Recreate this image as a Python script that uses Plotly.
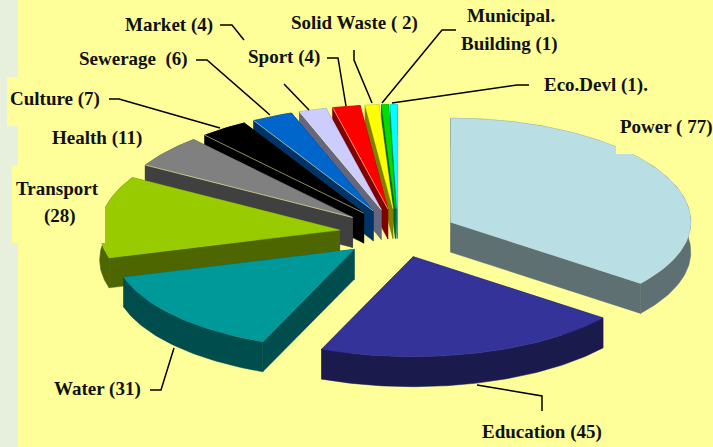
import math
import plotly.graph_objects as go

# ---- data ----
sectors = ["Power", "Education", "Water", "Transport", "Health", "Culture",
           "Sewerage", "Market", "Sport", "Solid Waste", "Municipal Building", "Eco.Devl"]
values = [77, 45, 31, 28, 11, 7, 6, 4, 4, 2, 1, 1]

# ---- styles ----
top_colors = ["#B9DFE4", "#333399", "#009999", "#99CC00", "#808080", "#000000",
              "#0066CC", "#CCCCFF", "#FF0000", "#FFFF00", "#00DD00", "#00FFFF"]
side_colors = ["#5F7072", "#1A1A4D", "#004D4D", "#4D6600", "#404040", "#000000",
               "#003366", "#66667F", "#800000", "#808000", "#006600", "#008080"]
pale_edge = {"Health", "Culture", "Sewerage", "Market", "Sport"}
draw_order = [0, 11, 10, 9, 8, 7, 6, 5, 4, 3, 2, 1]

# ---- projection of the tilted pie, in page pixels ----
CX, CY = 398, 233
RX, RY_FRONT, RY_BACK = 240, 100, 104
DEPTH = 30
EXPLODE = 0.245


def project(t, r=1.0):
    c = math.cos(t)
    ry = RY_BACK if c > 0 else RY_FRONT
    return r * RX * math.sin(t), -r * ry * c


def poly_trace(xs, ys, color):
    return go.Scatter(x=xs + xs[:1], y=ys + ys[:1], mode="lines", fill="toself",
                      fillcolor=color, line=dict(color=color, width=0.5),
                      hoverinfo="skip", showlegend=False)


total = sum(values)
angles = []
acc = 0.0
for v in values:
    start = acc / total * 2 * math.pi
    acc += v
    angles.append((start, acc / total * 2 * math.pi))

fig = go.Figure()
for i in draw_order:
    a0, a1 = angles[i]
    mid = (a0 + a1) / 2
    ax = CX + EXPLODE * RX * math.sin(mid)
    ay = CY - EXPLODE * RY_FRONT * math.cos(mid)
    n = max(6, int((a1 - a0) * 60))
    ts = [a0 + (a1 - a0) * k / n for k in range(n + 1)]
    arc = [(ax + project(t)[0], ay + project(t)[1]) for t in ts]
    ex = [p[0] for p in arc]
    ey = [p[1] for p in arc]
    # outer wall
    fig.add_trace(poly_trace(ex + ex[::-1], ey + [y + DEPTH for y in ey[::-1]], side_colors[i]))
    # radial walls
    for (px, py) in (arc[0], arc[-1]):
        fig.add_trace(poly_trace([ax, px, px, ax], [ay, py, py + DEPTH, ay + DEPTH], side_colors[i]))
    # top face
    fig.add_trace(poly_trace([ax] + ex, [ay] + ey, top_colors[i]))
    if sectors[i] in pale_edge:
        fig.add_trace(go.Scatter(x=[ax, arc[0][0]], y=[ay, arc[0][1]], mode="lines",
                                 line=dict(color="#FFFF99", width=0.7), opacity=0.8,
                                 hoverinfo="skip", showlegend=False))

# ---- labels: text, centre x, centre y ----
labels = [
    ("Market (4)", 168.5, 25), ("Sewerage  (6)", 133, 59), ("Culture (7)", 55, 99),
    ("Health (11)", 96.5, 138), ("Transport", 57.5, 188), ("(28)", 60, 216),
    ("Sport (4)", 283.5, 57), ("Solid Waste ( 2)", 354.5, 23), ("Municipal.", 510.5, 15),
    ("Building (1)", 509.5, 44), ("Eco.Devl (1).", 596, 85), ("Power ( 77)", 666, 127),
    ("Water (31)", 97.5, 389), ("Education (45)", 541.5, 432),
]
annotations = [dict(x=x, y=y, xref="x", yref="y", text=f"<b>{t}</b>", showarrow=False,
                    xanchor="center", yanchor="middle",
                    font=dict(family="Liberation Serif", size=19, color="#111111"))
               for t, x, y in labels]

# ---- leader lines ----
leaders = [
    [(220, 25), (232, 25), (244, 40)], [(284, 84), (309, 110)],
    [(196, 60), (207, 60), (270, 115)], [(109, 99), (119, 99), (220, 128)],
    [(327, 58), (338, 58), (346, 106)], [(354, 50), (354, 60), (372, 103)],
    [(456, 30), (442, 30), (382, 103)], [(529, 85), (517, 85), (392, 103)],
    [(150, 390), (161, 390), (174, 348)], [(477, 385), (542, 396), (542, 411)],
]
shapes = [
    dict(type="rect", x0=0, x1=713, y0=0, y1=447, layer="below", line_width=0, fillcolor="#E6F0DC"),
    dict(type="rect", x0=18, x1=713, y0=0, y1=447, layer="below", line_width=0, fillcolor="#FFFF99"),
    dict(type="rect", x0=7, x1=105, y0=77, y1=126, layer="below", line_width=0, fillcolor="#FFFF99"),
    dict(type="rect", x0=12, x1=105, y0=165, y1=243, layer="above", line_width=0, fillcolor="#FFFF99"),
    dict(type="rect", x0=616, x1=713, y0=115, y1=154, layer="above", line_width=0, fillcolor="#FFFF99"),
]
for pts in leaders:
    path = "M " + " L ".join(f"{x},{y}" for x, y in pts)
    shapes.append(dict(type="path", path=path, layer="above",
                       line=dict(color="#000000", width=1.5)))

fig.update_layout(
    width=713, height=447, autosize=False,
    margin=dict(l=0, r=0, t=0, b=0),
    paper_bgcolor="#FFFF99", plot_bgcolor="rgba(0,0,0,0)",
    xaxis=dict(range=[0, 713], visible=False, fixedrange=True),
    yaxis=dict(range=[447, 0], visible=False, fixedrange=True),
    shapes=shapes, annotations=annotations, showlegend=False,
)
fig.write_html("out.html", config=dict(displayModeBar=False),
               post_script="document.body.style.margin='0';document.body.style.overflow='hidden';")
